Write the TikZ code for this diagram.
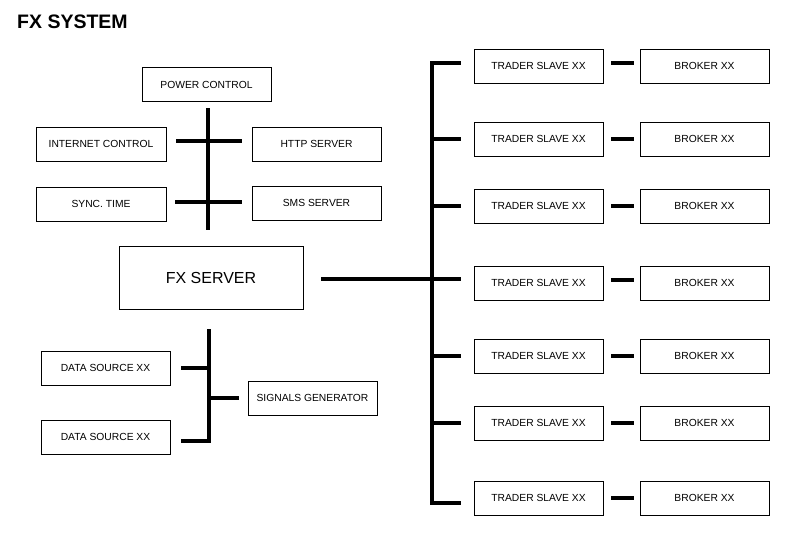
\documentclass[tikz,border=0pt]{standalone}
\usepackage{fontspec}
\setmainfont{Liberation Sans}
\usepackage{tikz}

\begin{document}
\begin{tikzpicture}[x=1pt,y=-1pt]
    \useasboundingbox (0,0) rectangle (806,550);
    \tikzstyle{format}=[rectangle,draw,line width=0.8pt,minimum width=129pt,minimum height=34pt,inner sep=0pt,font=\fontsize{10.3pt}{12pt}\selectfont]  % box
    \tikzstyle{bus}=[line width=4.6pt,line join=miter]  % thick link

    % title
    \node[anchor=base west,inner sep=0pt,font=\fontsize{19.5pt}{22pt}\selectfont\bfseries](title) at (17,28){FX SYSTEM};

    % upper group
    \node[format](power) at (206.5,84.5){POWER CONTROL};
    \node[format,minimum width=130pt](inet) at (101,144){INTERNET CONTROL};
    \node[format](http) at (316.5,144){HTTP SERVER};
    \node[format,minimum width=130pt](sync) at (101,204){SYNC. TIME};
    \node[format](sms) at (316.5,203){SMS SERVER};

    % server
    \node[format,minimum width=184pt,minimum height=63pt,font=\fontsize{16pt}{18pt}\selectfont](fxsrv) at (211,277.5){FX SERVER};

    % lower group
    \node[format](ds1) at (105.5,368){DATA SOURCE XX};
    \node[format](sig) at (312.5,398){SIGNALS GENERATOR};
    \node[format](ds2) at (105.5,437){DATA SOURCE XX};

    % traders and brokers
    \foreach \i/\y in {1/66,2/139,3/206,4/283,5/356,6/423,7/498}{
        \node[format](trader\i) at (538.5,\y){TRADER SLAVE XX};
        \node[format,right of=trader\i,node distance=166pt](broker\i){BROKER XX};
    }

    % bus points
    \coordinate (topN) at (208,108);
    \coordinate (topS) at (208,230);
    \coordinate (lowN) at (209,329);
    \coordinate (mainS) at (432,503);

    % upper links
    \draw[bus](topN)--(topS);
    \draw[bus]([xshift=10pt,yshift=3pt]inet.east)--([xshift=-10pt,yshift=3pt]http.west);
    \draw[bus]([xshift=9pt,yshift=2pt]sync.east)--([xshift=-10pt,yshift=1pt]sms.west);

    % lower links
    \draw[bus](lowN) |- ([xshift=11pt,yshift=-4pt]ds2.east);
    \draw[bus](ds1.east -| lowN)--([xshift=11pt]ds1.east);
    \draw[bus](sig.west -| lowN)--([xshift=-9pt]sig.west);

    % main bus
    \draw[bus]([xshift=18pt,yshift=-1.5pt]fxsrv.east)--([xshift=-13pt,yshift=4pt]trader4.west);
    \draw[bus]([xshift=-13pt,yshift=3pt]trader1.west) -| (mainS)--([xshift=-13pt,yshift=-5pt]trader7.west);
    \foreach \i in {2,3,5,6}
        \draw[bus](trader\i.west -| mainS)--([xshift=-13pt]trader\i.west);
    \foreach \i/\d in {1/3,2/0,3/0,4/3,5/0,6/0,7/0}
        \draw[bus]([xshift=8pt,yshift=\d pt]trader\i.east)--([xshift=-6pt,yshift=\d pt]broker\i.west);
\end{tikzpicture}
\end{document}
